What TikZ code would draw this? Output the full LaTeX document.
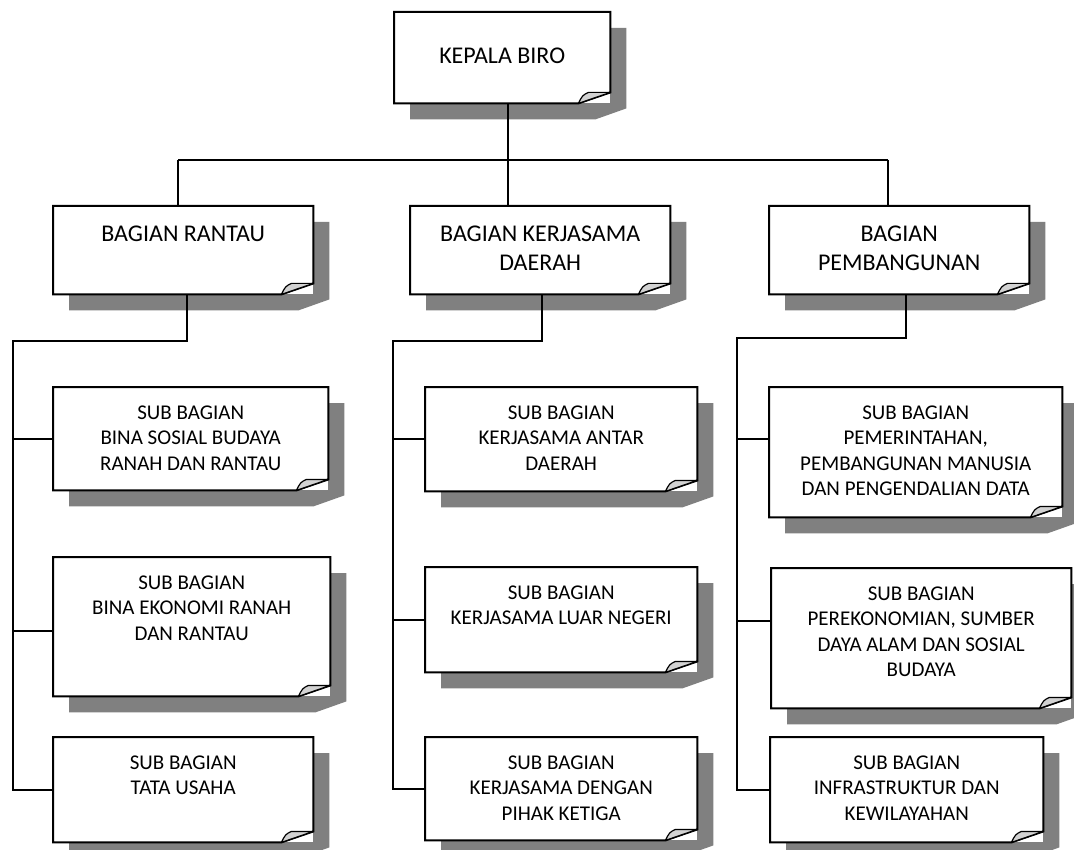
\documentclass[tikz,border=0pt]{standalone}
\usepackage{fontspec}
\setmainfont{Carlito}
\usetikzlibrary{positioning}

\definecolor{shadowgray}{RGB}{128,128,128}
\definecolor{curlgray}{RGB}{210,210,210}

\pgfdeclarelayer{back}
\pgfsetlayers{back,main}

\newcommand{\headfont}{\fontsize{24}{29}\selectfont}
\newcommand{\subfont}{\fontsize{21}{25.5}\selectfont}
% box text: width, height, first baseline, lines
\newcommand{\notetext}[4]{\parbox[c][#2pt][t]{#1pt}{\centering\rule{0pt}{#3pt}#4}}

% shadow, folded corner and outline round a note node
\newcommand{\foldbox}[1]{%
  \begin{pgfonlayer}{back}
    \fill[shadowgray] ([shift={(16,16)}]#1.north west) -- ([shift={(16,16)}]#1.north east)
      -- ([shift={(16,5)}]#1.south east) -- ([shift={(-15,16)}]#1.south east)
      -- ([shift={(16,16)}]#1.south west) -- cycle;
  \end{pgfonlayer}
  \draw[edge] (#1.south west) -- (#1.north west) -- (#1.north east)
    -- ([shift={(0,-11)}]#1.south east) -- ([shift={(-32,0)}]#1.south east) -- cycle;
  \filldraw[curl] ([shift={(-32,0)}]#1.south east)
    .. controls ([shift={(-28,-8)}]#1.south east) .. ([shift={(-22,-11)}]#1.south east)
    -- ([shift={(0,-11)}]#1.south east) -- cycle;
}

\begin{document}
\begin{tikzpicture}[
        x=1pt, y=-1pt,
        note/.style={anchor=north west, fill=white, inner sep=0pt, font=\subfont},
        head/.style={note, font=\headfont},
        edge/.style={line width=2pt, line join=miter},
        curl/.style={fill=curlgray, draw=black, line width=1.2pt, line join=round},
        link/.style={line width=1.8pt}
    ]

    \begin{pgfonlayer}{back}
        \fill[white] (0,0) rectangle (1074,850);
    \end{pgfonlayer}
    \useasboundingbox (0,0) rectangle (1074,850);

    % =========================
    % Kepala and bagian
    % =========================
    \node[head] (kepala) at (394,12) {\notetext{216}{91}{51}{KEPALA BIRO}};

    \node[head] (rantau) at (53,206)  {\notetext{260}{88}{35}{BAGIAN RANTAU}};
    \node[head] (kerja)  at (410,206) {\notetext{260}{88}{35}{BAGIAN KERJASAMA\\DAERAH}};
    \node[head] (bangun) at (769,206) {\notetext{260}{88}{35}{BAGIAN\\PEMBANGUNAN}};

    % =========================
    % Sub bagian
    % =========================
    \node[note] (sosial)    at (53,387) {\notetext{275}{103}{32}{SUB BAGIAN\\BINA SOSIAL BUDAYA\\RANAH DAN RANTAU}};
    \node[note] (ekonomi)   at (53,557) {\notetext{277}{139}{32}{SUB BAGIAN\\BINA EKONOMI RANAH\\DAN RANTAU}};
    \node[note] (tatausaha) at (53,737) {\notetext{260}{105}{32}{SUB BAGIAN\\TATA USAHA}};

    \node[note] (antar)  at (425,387) {\notetext{272}{104}{32}{SUB BAGIAN\\KERJASAMA ANTAR\\DAERAH}};
    \node[note] (luar)   at (425,567) {\notetext{272}{105}{32}{SUB BAGIAN\\KERJASAMA LUAR NEGERI}};
    \node[note] (ketiga) at (425,737) {\notetext{272}{103}{32}{SUB BAGIAN\\KERJASAMA DENGAN\\PIHAK KETIGA}};

    \node[note] (pemerintahan) at (769,387) {\notetext{293}{130}{32}{SUB BAGIAN\\PEMERINTAHAN,\\PEMBANGUNAN MANUSIA\\DAN PENGENDALIAN DATA}};
    \node[note] (sda)          at (771,568) {\notetext{300}{140}{32}{SUB BAGIAN\\PEREKONOMIAN, SUMBER\\DAYA ALAM DAN SOSIAL\\BUDAYA}};
    \node[note] (infra)        at (770,737) {\notetext{273}{105}{32}{SUB BAGIAN\\INFRASTRUKTUR DAN\\KEWILAYAHAN}};

    \foreach \n in {kepala, rantau, kerja, bangun, sosial, ekonomi, tatausaha,
                    antar, luar, ketiga, pemerintahan, sda, infra}
        {\foldbox{\n}}

    % =========================
    % Connectors
    % =========================
    \coordinate (busL) at (178,160);
    \coordinate (busM) at (508,160);
    \coordinate (busR) at (888,160);

    \draw[link] (kepala.south -| busM) -- (busM);
    \draw[link] (busL) -- (busR);
    \draw[link] (busL) -- (busL |- rantau.north);
    \draw[link] (busM) -- (busM |- kerja.north);
    \draw[link] (busR) -- (busR |- bangun.north);

    % rantau
    \coordinate (rantauA) at (187,341);
    \coordinate (rantauB) at (13,341);
    \draw[link] (rantau.south -| rantauA) -- (rantauA) -- (rantauB) -- (rantauB |- tatausaha.west) -- (tatausaha.west);
    \draw[link] (rantauB |- sosial.west) -- (sosial.west);
    \draw[link] ([yshift=-4pt]rantauB |- ekonomi.west) -- ([yshift=-4pt]ekonomi.west);

    % kerjasama
    \coordinate (kerjaA) at (542,341);
    \coordinate (kerjaB) at (393,341);
    \draw[link] (kerja.south -| kerjaA) -- (kerjaA) -- (kerjaB) -- (kerjaB |- ketiga.west) -- (ketiga.west);
    \draw[link] (kerjaB |- antar.west) -- (antar.west);
    \draw[link] (kerjaB |- luar.west) -- (luar.west);

    % pembangunan
    \coordinate (bangunA) at (906,338);
    \coordinate (bangunB) at (737,338);
    \draw[link] (bangun.south -| bangunA) -- (bangunA) -- (bangunB) -- (bangunB |- infra.west) -- (infra.west);
    \draw[link] ([yshift=13pt]bangunB |- pemerintahan.west) -- ([yshift=13pt]pemerintahan.west);
    \draw[link] ([yshift=17pt]bangunB |- sda.west) -- ([yshift=17pt]sda.west);

\end{tikzpicture}
\end{document}
